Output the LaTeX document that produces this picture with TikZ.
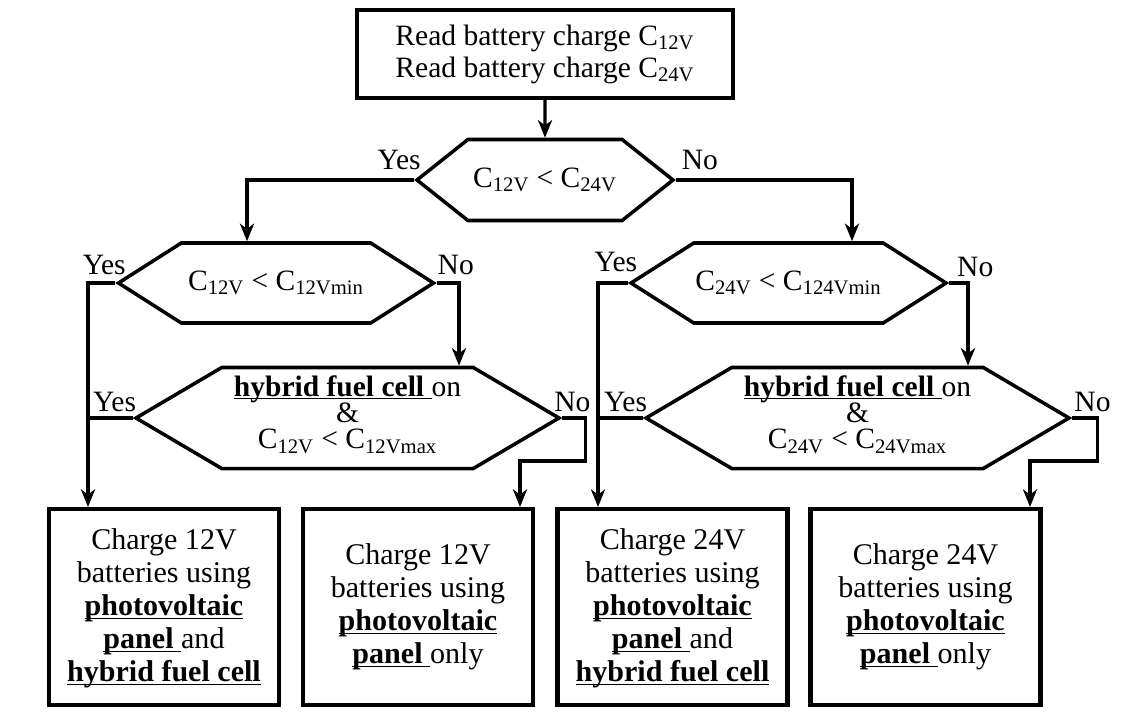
\documentclass[tikz,border=0pt]{standalone}
\usepackage{fontspec}
\setmainfont{Liberation Serif}
\usetikzlibrary{arrows.meta, shapes.symbols}

\newcommand{\ulbf}[1]{\underline{\smash{\textbf{#1}}}}

\begin{document}
\begin{tikzpicture}[
    >={Stealth[length=10pt, width=8pt, inset=3pt]},
    font=\fontsize{16.8}{18.2}\selectfont,
    box/.style={draw, line width=2.3pt, align=center, inner sep=0pt},
    stepbox/.style={box, minimum width=4.6cm, minimum height=3.92cm,
        font=\fontsize{17.1}{18.8}\selectfont},
    decision/.style={
        draw, line width=2pt, shape=signal, signal to=west and east,
        align=center, inner sep=0pt,
    },
    hexbig/.style={decision, minimum width=8.46cm, minimum height=2.02cm,
        signal pointer angle=61, font=\fontsize{16.8}{15}\selectfont},
    hexsmall/.style={decision, minimum width=6.3cm, minimum height=1.6cm,
        signal pointer angle=65},
    arr/.style={->, line width=1.8pt},
    conn/.style={line width=1.8pt},
    lbl/.style={inner sep=0pt},
]
\useasboundingbox (0,0) rectangle (22.7,-14.26);

% Nodes
\node[box, minimum width=7.52cm, minimum height=1.76cm] (read) at (10.9,-1.08)
    {Read battery charge C\textsubscript{12V}\\Read battery charge C\textsubscript{24V}};
\node[decision, minimum width=5.12cm, minimum height=1.62cm, signal pointer angle=77] (cmp) at (10.9,-3.6)
    {C\textsubscript{12V} < C\textsubscript{24V}};
\node[hexsmall] (low12) at (5.52,-5.66) {C\textsubscript{12V} < C\textsubscript{12Vmin}};
\node[hexsmall] (low24) at (15.77,-5.66) {C\textsubscript{24V} < C\textsubscript{124Vmin}};
\node[hexbig] (fc12) at (6.95,-8.36)
    {\ulbf{hybrid fuel cell }on\\\&\\C\textsubscript{12V} < C\textsubscript{12Vmax}};
\node[hexbig] (fc24) at (17.15,-8.36)
    {\ulbf{hybrid fuel cell }on\\\&\\C\textsubscript{24V} < C\textsubscript{24Vmax}};

\node[stepbox] (pvfc12) at (3.28,-12.14)
    {Charge 12V\\batteries using\\\ulbf{photovoltaic}\\\ulbf{panel }and\\\ulbf{hybrid fuel cell}};
\node[stepbox] (pv12) at (8.36,-12.14)
    {Charge 12V\\batteries using\\\ulbf{photovoltaic}\\\ulbf{panel }only};
\node[stepbox] (pvfc24) at (13.45,-12.14)
    {Charge 24V\\batteries using\\\ulbf{photovoltaic}\\\ulbf{panel }and\\\ulbf{hybrid fuel cell}};
\node[stepbox] (pv24) at (18.51,-12.14)
    {Charge 24V\\batteries using\\\ulbf{photovoltaic}\\\ulbf{panel }only};

% Yes / No labels
\node[lbl] (cmpyes) at ([shift={(-0.3cm,0.4cm)}]cmp.west) {Yes};
\node[lbl] (cmpno) at ([shift={(0.48cm,0.4cm)}]cmp.east) {No};
\node[lbl] (low12yes) at ([shift={(-0.22cm,0.36cm)}]low12.west) {Yes};
\node[lbl] (low12no) at ([shift={(0.38cm,0.36cm)}]low12.east) {No};
\node[lbl] (low24yes) at ([shift={(-0.24cm,0.42cm)}]low24.west) {Yes};
\node[lbl] (low24no) at ([shift={(0.52cm,0.32cm)}]low24.east) {No};
\node[lbl] (fc12yes) at ([shift={(-0.36cm,0.32cm)}]fc12.west) {Yes};
\node[lbl] (fc12no) at ([shift={(0.2cm,0.32cm)}]fc12.east) {No};
\node[lbl] (fc24yes) at ([shift={(-0.34cm,0.32cm)}]fc24.west) {Yes};
\node[lbl] (fc24no) at ([shift={(0.4cm,0.32cm)}]fc24.east) {No};

% Connectors
\draw[arr] (read) -- (cmp);
\draw[arr] (cmp.west) -| ([xshift=-0.58cm]low12.north);
\draw[arr] (cmp.east) -| ([xshift=1.27cm]low24.north);

\draw[arr] (low12.west) -| ([xshift=-1.52cm]pvfc12.north);
\draw[arr] (low12.east) -| ([xshift=2.23cm]fc12.north);
\draw[conn] (fc12.west) -- ([xshift=-1.52cm]pvfc12.north |- fc12.west);
\draw[arr] (fc12.east) -- ++(0.46cm,0) -- ++(0,-0.86cm) -| ([xshift=2.04cm]pv12.north);

\draw[arr] (low24.west) -| ([xshift=-1.49cm]pvfc24.north);
\draw[arr] (low24.east) -| ([xshift=2.21cm]fc24.north);
\draw[conn] (fc24.west) -- ([xshift=-1.49cm]pvfc24.north |- fc24.west);
\draw[arr] (fc24.east) -- ++(0.5cm,0) -- ++(0,-0.86cm) -| ([xshift=2.09cm]pv24.north);

\end{tikzpicture}
\end{document}
